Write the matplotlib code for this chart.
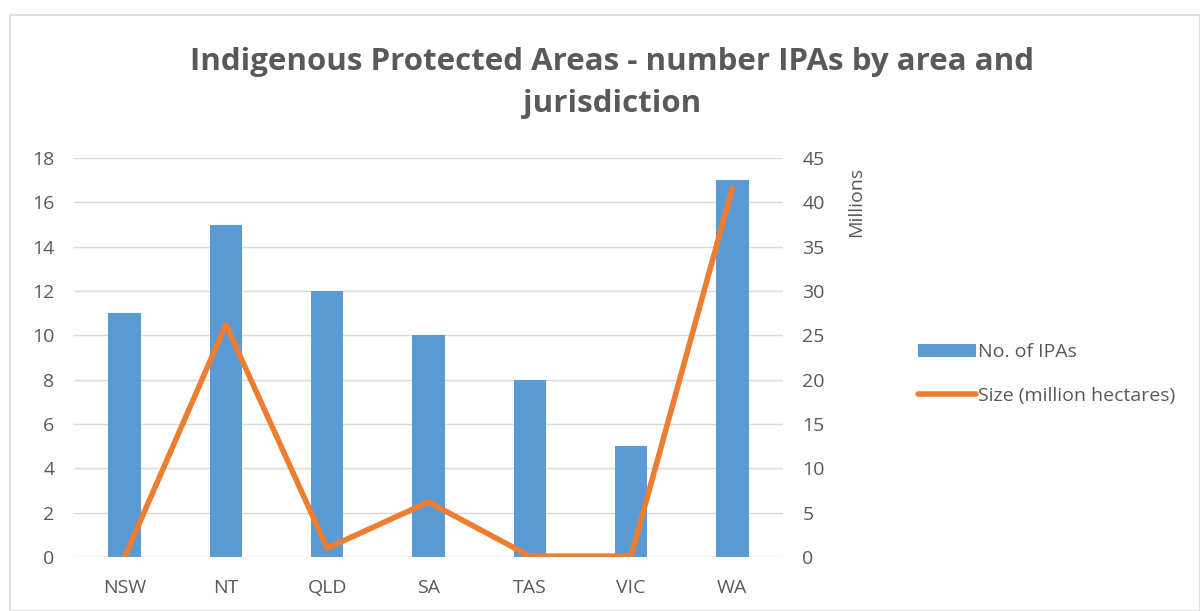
import numpy as np
import matplotlib.pyplot as plt
from matplotlib.patches import Rectangle

plt.rcParams['font.family'] = ['Open Sans', 'DejaVu Sans']

states = ['NSW', 'NT', 'QLD', 'SA', 'TAS', 'VIC', 'WA']
num_ipas = [11, 15, 12, 10, 8, 5, 17]
size_mha = [0.0, 26.2, 1.0, 6.2, 0.1, 0.1, 41.6]

txt = '#595959'
fig = plt.figure(figsize=(12, 6.11), dpi=100)
fig.patches.append(Rectangle((10/1200, 0), 1190/1200, 1 - 15/611, transform=fig.transFigure,
                             fill=False, edgecolor='#d9d9d9', lw=1.2))

ax = fig.add_axes([74/1200, 1 - 557/611, 709/1200, 399/611])
x = np.arange(len(states))
bars = ax.bar(x, num_ipas, width=0.32, color='#5B9BD5', label='No. of IPAs', zorder=2)
ax.set_ylim(0, 18)
ax.set_yticks(range(0, 19, 2))
ax.set_xlim(-0.5, len(states) - 0.5)
ax.set_xticks(x)
ax.set_xticklabels(states)
ax.grid(axis='y', color='#d9d9d9', lw=1, zorder=0)
for s in ax.spines.values():
    s.set_visible(False)
ax.tick_params(length=0, labelsize=14, colors=txt)
ax.tick_params(axis='x', pad=16)
ax.tick_params(axis='y', pad=14)

ax2 = ax.twinx()
line, = ax2.plot(x, size_mha, color='#ED7D31', lw=4, solid_capstyle='round',
                 label='Size (million hectares)', zorder=3)
ax2.set_ylim(0, 45)
ax2.set_yticks(range(0, 46, 5))
for s in ax2.spines.values():
    s.set_visible(False)
ax2.tick_params(length=0, labelsize=14, colors=txt, pad=14)
ax2.set_ylabel('Millions', fontsize=14, color=txt)
ax2.yaxis.set_label_coords(1.09, 0.89)

fig.text(0.51, 0.898, 'Indigenous Protected Areas - number IPAs by area and',
         ha='center', va='center', fontsize=22.5, fontweight='bold', color=txt)
fig.text(0.51, 0.829, 'jurisdiction',
         ha='center', va='center', fontsize=22.5, fontweight='bold', color=txt)

fig.legend([bars, line], ['No. of IPAs', 'Size (million hectares)'],
           loc='center left', bbox_to_anchor=(900/1200, 1 - 374/611), frameon=False,
           fontsize=14, labelcolor=txt, handlelength=3.0, handletextpad=0.1,
           labelspacing=1.3)

fig.savefig('out.png', dpi=100)
